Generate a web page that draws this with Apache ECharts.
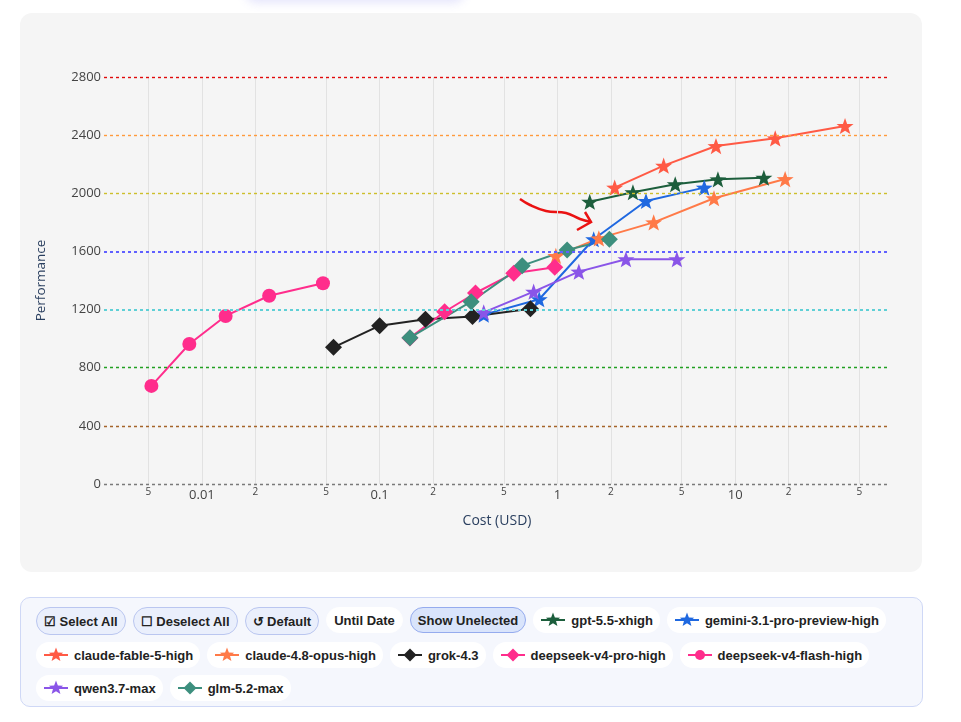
<!DOCTYPE html>
<html>
<head>
<meta charset="utf-8">
<title>Cost vs Performance</title>
<script src="https://cdn.jsdelivr.net/npm/echarts@6/dist/echarts.min.js"></script>
<style>
  html, body { margin: 0; padding: 0; background: #fff; width: 961px; height: 722px; overflow: hidden; font-family: "Liberation Sans", Arial, sans-serif; }
  .top-shadow { position: absolute; left: 245px; top: -30px; width: 220px; height: 30px; background: #fff; border-radius: 12px; box-shadow: 0 3px 10px rgba(110, 110, 240, 0.18); }
  .plot-card { position: absolute; left: 20px; top: 13px; width: 902px; height: 559px; background: #f5f5f5; border-radius: 12px; }
  #chart { position: absolute; left: 0; top: 0; width: 961px; height: 580px; }
  .ctrl { position: absolute; left: 20px; top: 597px; width: 886px; height: 99px; padding: 9px 0 0 15px; background: #f5f7fd; border: 1px solid #cfd8f6; border-radius: 10px; display: flex; flex-wrap: wrap; align-content: flex-start; column-gap: 7px; row-gap: 7px; }
  .pill { display: inline-flex; align-items: center; box-sizing: border-box; height: 26px; padding: 0 7px 0 8px; border-radius: 13px; background: #fff; font-size: 13px; font-weight: bold; color: #222; white-space: nowrap; }
  .pill svg { margin-right: 6px; }
  .btn { height: 28px; padding: 0 7px; background: #eaeffc; border: 1px solid #bac6f0; border-radius: 14px; }
  .btn.plain { background: #fff; border-color: #fff; height: 26px; }
  .btn.on { background: #d9e4fb; border-color: #95abee; height: 26px; }
</style>
</head>
<body>
<div class="top-shadow"></div>
<div class="plot-card"></div>
<div id="chart"></div>
<div class="ctrl" id="ctrl">
  <span class="pill btn">&#9745;&nbsp;Select All</span>
  <span class="pill btn">&#9744;&nbsp;Deselect All</span>
  <span class="pill btn">&#8634;&nbsp;Default</span>
  <span class="pill btn plain">Until Date</span>
  <span class="pill btn on">Show Unelected</span>
</div>
<script>
// 数据: 成本(USD) 与 分数
const gptCost = [1.52, 2.66, 4.6, 8.0, 14.5]
const gptPerf = [1942, 2007, 2062, 2096, 2107]
const geminiCost = [0.385, 0.79, 1.6, 3.15, 6.7]
const geminiPerf = [1165, 1271, 1684, 1947, 2039]
const fableCost = [2.1, 3.96, 7.8, 16.8, 41.5]
const fablePerf = [2039, 2190, 2325, 2378, 2463]
const opusCost = [0.98, 1.71, 3.48, 7.6, 19.1]
const opusPerf = [1569, 1690, 1800, 1966, 2098]
const grokCost = [0.055, 0.1, 0.181, 0.333, 0.705]
const grokPerf = [940, 1089, 1133, 1153, 1206]
const dsProCost = [0.148, 0.232, 0.346, 0.568, 0.966]
const dsProPerf = [1005, 1185, 1314, 1450, 1491]
const dsFlashCost = [0.0052, 0.0085, 0.0136, 0.0239, 0.048]
const dsFlashPerf = [675, 963, 1156, 1295, 1381]
const qwenCost = [0.385, 0.735, 1.32, 2.43, 4.7]
const qwenPerf = [1181, 1323, 1461, 1546, 1546]
const glmCost = [0.148, 0.327, 0.634, 1.134, 1.96]
const glmPerf = [1007, 1254, 1502, 1610, 1683]

const xTickVals = [0.005, 0.01, 0.02, 0.05, 0.1, 0.2, 0.5, 1, 2, 5, 10, 20, 50]
const xTickLabels = ['5', '0.01', '2', '5', '0.1', '2', '5', '1', '2', '5', '10', '2', '5']
const refLevels = [0, 400, 800, 1200, 1600, 2000, 2400, 2800]

// 参考线样式
const refColors = ['#7a7a7a', '#a5642a', '#22a022', '#5fd0d6', '#6060ff', '#cdbf2c', '#ff9a3c', '#e00a0a']
const refWidths = [1.4, 1.4, 1.4, 2, 2, 1.4, 1.4, 1.4]

const STAR = 'path://M0,-10L2.35,-3.24L9.51,-3.09L3.8,1.24L5.88,8.09L0,4.4L-5.88,8.09L-3.8,1.24L-9.51,-3.09L-2.35,-3.24Z'

const models = [
  { name: 'gpt-5.5-xhigh', x: gptCost, y: gptPerf, color: '#1c5e3c', symbol: STAR, shape: 'star' },
  { name: 'gemini-3.1-pro-preview-high', x: geminiCost, y: geminiPerf, color: '#1f68e0', symbol: STAR, shape: 'star' },
  { name: 'claude-fable-5-high', x: fableCost, y: fablePerf, color: '#ff5a45', symbol: STAR, shape: 'star' },
  { name: 'claude-4.8-opus-high', x: opusCost, y: opusPerf, color: '#ff7a48', symbol: STAR, shape: 'star' },
  { name: 'grok-4.3', x: grokCost, y: grokPerf, color: '#222222', symbol: 'diamond', shape: 'diamond' },
  { name: 'deepseek-v4-pro-high', x: dsProCost, y: dsProPerf, color: '#ff2d8c', symbol: 'diamond', shape: 'diamond' },
  { name: 'deepseek-v4-flash-high', x: dsFlashCost, y: dsFlashPerf, color: '#ff2d8c', symbol: 'circle', shape: 'circle' },
  { name: 'qwen3.7-max', x: qwenCost, y: qwenPerf, color: '#8a55e8', symbol: STAR, shape: 'star' },
  { name: 'glm-5.2-max', x: glmCost, y: glmPerf, color: '#3d8f7e', symbol: 'diamond', shape: 'diamond' }
]

const symbolSize = { star: 17, diamond: 17, circle: 14 }

const chartInstance = echarts.init(document.getElementById('chart'))

const refSeries = {
  type: 'line',
  data: [],
  silent: true,
  z: 1,
  markLine: {
    silent: true,
    symbol: 'none',
    label: { show: false },
    animation: false,
    data: refLevels.map((v, i) => ({
      yAxis: v,
      lineStyle: { color: refColors[i], width: refWidths[i], type: [3, 3], opacity: 1 }
    }))
  }
}

const modelSeries = models.map(m => ({
  name: m.name,
  type: 'line',
  z: 3,
  data: m.x.map((c, i) => [c, m.y[i]]),
  symbol: m.symbol,
  symbolSize: symbolSize[m.shape],
  symbolKeepAspect: true,
  showAllSymbol: true,
  lineStyle: { color: m.color, width: 2 },
  itemStyle: { color: m.color },
  emphasis: { disabled: true }
}))

const option = {
  animation: false,
  backgroundColor: 'transparent',
  grid: { left: 104, right: 71, top: 77, bottom: 96 },
  xAxis: {
    type: 'log',
    logBase: 10,
    min: 0.002814,
    max: 74.3,
    name: 'Cost (USD)',
    nameLocation: 'middle',
    nameGap: 30,
    nameTextStyle: { color: '#2a3f5f', fontSize: 14, fontFamily: 'Open Sans' },
    axisLine: { show: false },
    axisTick: { show: false, customValues: xTickVals },
    axisLabel: {
      customValues: xTickVals,
      margin: 3,
      color: '#444',
      formatter: val => {
        const i = xTickVals.findIndex(v => Math.abs(Math.log10(v) - Math.log10(val)) < 1e-6)
        if (i < 0) return ''
        const major = Math.abs(Math.log10(val) - Math.round(Math.log10(val))) < 1e-6
        return major ? '{b|' + xTickLabels[i] + '}' : '{s|' + xTickLabels[i] + '}'
      },
      rich: {
        b: { fontSize: 13, color: '#444', fontFamily: 'Open Sans', padding: [2, 0, 0, 0] },
        s: { fontSize: 10, color: '#444', fontFamily: 'Open Sans' }
      }
    },
    splitLine: { show: true, lineStyle: { color: '#e2e2e2', width: 1 } }
  },
  yAxis: {
    type: 'value',
    min: 0,
    max: 2800,
    interval: 400,
    name: 'Performance',
    nameLocation: 'middle',
    nameGap: 56,
    nameTextStyle: { color: '#2a3f5f', fontSize: 13.5, fontFamily: 'Open Sans' },
    axisLine: { show: false },
    axisTick: { show: false },
    axisLabel: { color: '#444', fontSize: 13, margin: 3, fontFamily: 'Open Sans', formatter: v => String(v) },
    splitLine: { show: false }
  },
  graphic: [
    {
      type: 'polyline',
      silent: true,
      shape: { points: [[520, 199], [530, 205], [546, 211], [566, 213], [580, 219], [591, 222]], smooth: 0.4 },
      style: { stroke: '#ea1212', lineWidth: 2.5, fill: null }
    },
    {
      type: 'polyline',
      silent: true,
      shape: { points: [[585, 212], [591, 222], [577, 230]] },
      style: { stroke: '#ea1212', lineWidth: 2.5, fill: null }
    }
  ],
  series: [refSeries].concat(modelSeries)
}

chartInstance.setOption(option)

// 下方的图例按钮
const svgIcon = m => {
  let mark = ''
  if (m.shape === 'star') {
    const pts = []
    for (let k = 0; k < 10; k++) {
      const r = k % 2 === 0 ? 7.5 : 3.2
      const a = -Math.PI / 2 + k * Math.PI / 5
      pts.push((12 + r * Math.cos(a)).toFixed(2) + ',' + (8 + r * Math.sin(a)).toFixed(2))
    }
    mark = '<polygon points="' + pts.join(' ') + '" fill="' + m.color + '"/>'
  } else if (m.shape === 'diamond') {
    mark = '<polygon points="12,1.5 18.5,8 12,14.5 5.5,8" fill="' + m.color + '"/>'
  } else {
    mark = '<circle cx="12" cy="8" r="5" fill="' + m.color + '"/>'
  }
  return '<svg width="24" height="16" viewBox="0 0 24 16"><line x1="0" y1="8" x2="24" y2="8" stroke="' + m.color + '" stroke-width="2"/>' + mark + '</svg>'
}
const ctrl = document.getElementById('ctrl')
models.forEach(m => {
  const el = document.createElement('span')
  el.className = 'pill'
  el.innerHTML = svgIcon(m) + m.name
  ctrl.appendChild(el)
})
</script>
</body>
</html>
